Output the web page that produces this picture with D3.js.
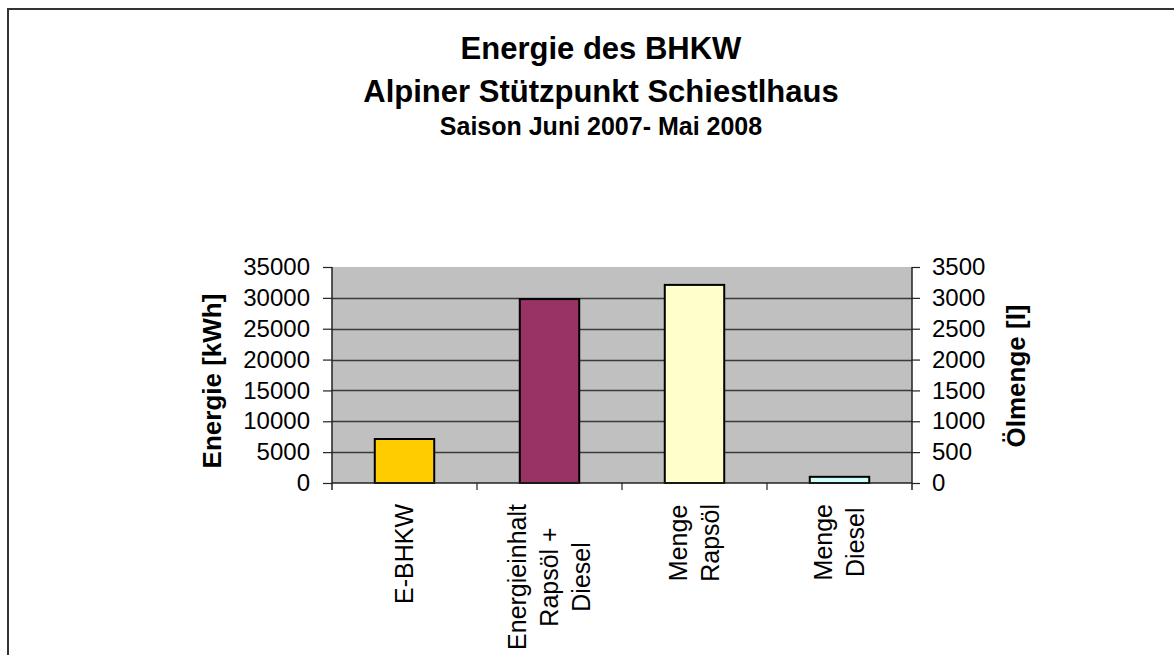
<!DOCTYPE html>
<html>
<head>
<meta charset="utf-8">
<script src="https://cdn.jsdelivr.net/npm/d3@7/dist/d3.min.js"></script>
<style>
  html, body { margin: 0; padding: 0; background: #fff; }
  svg { display: block; font-family: "Liberation Sans", Arial, sans-serif; }
</style>
</head>
<body>
<svg id="chart" width="1174" height="655"></svg>
<script>
// ---- data ----
const titleLines = ["Energie des BHKW", "Alpiner Stützpunkt Schiestlhaus", "Saison Juni 2007- Mai 2008"];
const categories = ["E-BHKW", "Energieinhalt\nRapsöl +\nDiesel", "Menge\nRapsöl", "Menge\nDiesel"];
const energyValues = [7130, 29800, null, null];   // kWh, left axis
const oilValues = [null, null, 3210, 100];        // liters, right axis
const barColors = ["#FFCC00", "#993366", "#FFFFCC", "#CCFFFF"];
const leftTicks = [0, 5000, 10000, 15000, 20000, 25000, 30000, 35000];
const rightTicks = [0, 500, 1000, 1500, 2000, 2500, 3000, 3500];
const leftTitle = "Energie [kWh]";
const rightTitle = "Ölmenge [l]";

// ---- layout ----
const svg = d3.select("#chart");
const plot = { left: 332, right: 912, top: 267, bottom: 483 };

// outer chart border (extends beyond the viewport right/bottom)
svg.append("rect").attr("x", 8).attr("y", 9).attr("width", 1300).attr("height", 800)
  .attr("fill", "#fff").attr("stroke", "#333").attr("stroke-width", 2);

// titles
const titleSizes = [31, 31, 25];
const titleY = [59, 102, 135];
titleLines.forEach((t, i) => {
  svg.append("text").attr("x", 601).attr("y", titleY[i]).attr("text-anchor", "middle")
    .attr("font-weight", "bold").attr("font-size", titleSizes[i]).attr("fill", "#000").text(t);
});

const x = d3.scaleBand().domain(d3.range(categories.length)).range([plot.left, plot.right]).padding(0);
const yL = d3.scaleLinear().domain([0, 35000]).range([plot.bottom, plot.top]);
const yR = d3.scaleLinear().domain([0, 3500]).range([plot.bottom, plot.top]);

// plot background
svg.append("rect").attr("x", plot.left).attr("y", plot.top)
  .attr("width", plot.right - plot.left).attr("height", plot.bottom - plot.top).attr("fill", "#C0C0C0");

// gridlines
svg.append("g").selectAll("line").data(leftTicks.filter(d => d > 0 && d < 35000)).join("line")
  .attr("x1", plot.left).attr("x2", plot.right)
  .attr("y1", d => Math.round(yL(d)) + 0.5).attr("y2", d => Math.round(yL(d)) + 0.5)
  .attr("stroke", "#3a3a3a").attr("stroke-width", 1.3);

// bars
const barW = x.bandwidth() * 0.41;
const bars = categories.map((c, i) => ({
  i,
  top: energyValues[i] != null ? yL(energyValues[i]) : yR(oilValues[i])
}));
svg.append("g").selectAll("rect").data(bars).join("rect")
  .attr("x", d => x(d.i) + x.bandwidth() / 2 - barW / 2)
  .attr("y", d => d.top)
  .attr("width", barW)
  .attr("height", d => plot.bottom - d.top)
  .attr("fill", d => barColors[d.i])
  .attr("stroke", "#000").attr("stroke-width", 2);

// left axis
const axL = svg.append("g").attr("transform", `translate(${plot.left},0)`)
  .call(d3.axisLeft(yL).tickValues(leftTicks).tickSize(9).tickPadding(13).tickSizeOuter(0).tickFormat(d3.format("d")));
// right axis
const axR = svg.append("g").attr("transform", `translate(${plot.right},0)`)
  .call(d3.axisRight(yR).tickValues(rightTicks).tickSize(8).tickPadding(12).tickSizeOuter(0).tickFormat(d3.format("d")));
[axL, axR].forEach(a => {
  a.select(".domain").remove();
  a.selectAll("line").attr("stroke", "#222").attr("stroke-width", 1.2);
  a.selectAll("text").attr("font-size", 24).attr("fill", "#000").attr("font-family", "Liberation Sans, Arial, sans-serif");
});

// axis lines
svg.append("line").attr("x1", plot.left).attr("x2", plot.left).attr("y1", plot.top).attr("y2", plot.bottom + 7)
  .attr("stroke", "#222").attr("stroke-width", 1.5);
svg.append("line").attr("x1", plot.right).attr("x2", plot.right).attr("y1", plot.top).attr("y2", plot.bottom + 7)
  .attr("stroke", "#222").attr("stroke-width", 1.5);
svg.append("line").attr("x1", plot.left).attr("x2", plot.right).attr("y1", plot.bottom).attr("y2", plot.bottom)
  .attr("stroke", "#222").attr("stroke-width", 1.5);
// category ticks
svg.append("g").selectAll("line").data(d3.range(1, categories.length)).join("line")
  .attr("x1", d => x(d)).attr("x2", d => x(d)).attr("y1", plot.bottom).attr("y2", plot.bottom + 7)
  .attr("stroke", "#222").attr("stroke-width", 1.2);

// category labels (rotated, lines stacked horizontally, block top-aligned)
const labelTop = 504, lineGap = 32;
categories.forEach((c, i) => {
  const lines = c.split("\n");
  const cx = x(i) + x.bandwidth() / 2 - 1;
  const g = svg.append("g");
  const texts = lines.map((ln, j) => g.append("text").attr("font-size", 25).attr("fill", "#000")
    .attr("text-anchor", "middle").attr("dominant-baseline", "central").text(ln));
  const maxLen = d3.max(texts, t => t.node().getComputedTextLength());
  const cy = labelTop + maxLen / 2;
  texts.forEach((t, j) => {
    const lx = cx + (j - (lines.length - 1) / 2) * lineGap;
    t.attr("transform", `translate(${lx},${cy}) rotate(-90)`);
  });
});

// axis titles
svg.append("text").attr("transform", "translate(221,381) rotate(-90)").attr("text-anchor", "middle")
  .attr("font-weight", "bold").attr("font-size", 26).attr("fill", "#000").text(leftTitle);
svg.append("text").attr("transform", "translate(1025,376) rotate(-90)").attr("text-anchor", "middle")
  .attr("font-weight", "bold").attr("font-size", 26).attr("fill", "#000").text(rightTitle);
</script>
</body>
</html>
